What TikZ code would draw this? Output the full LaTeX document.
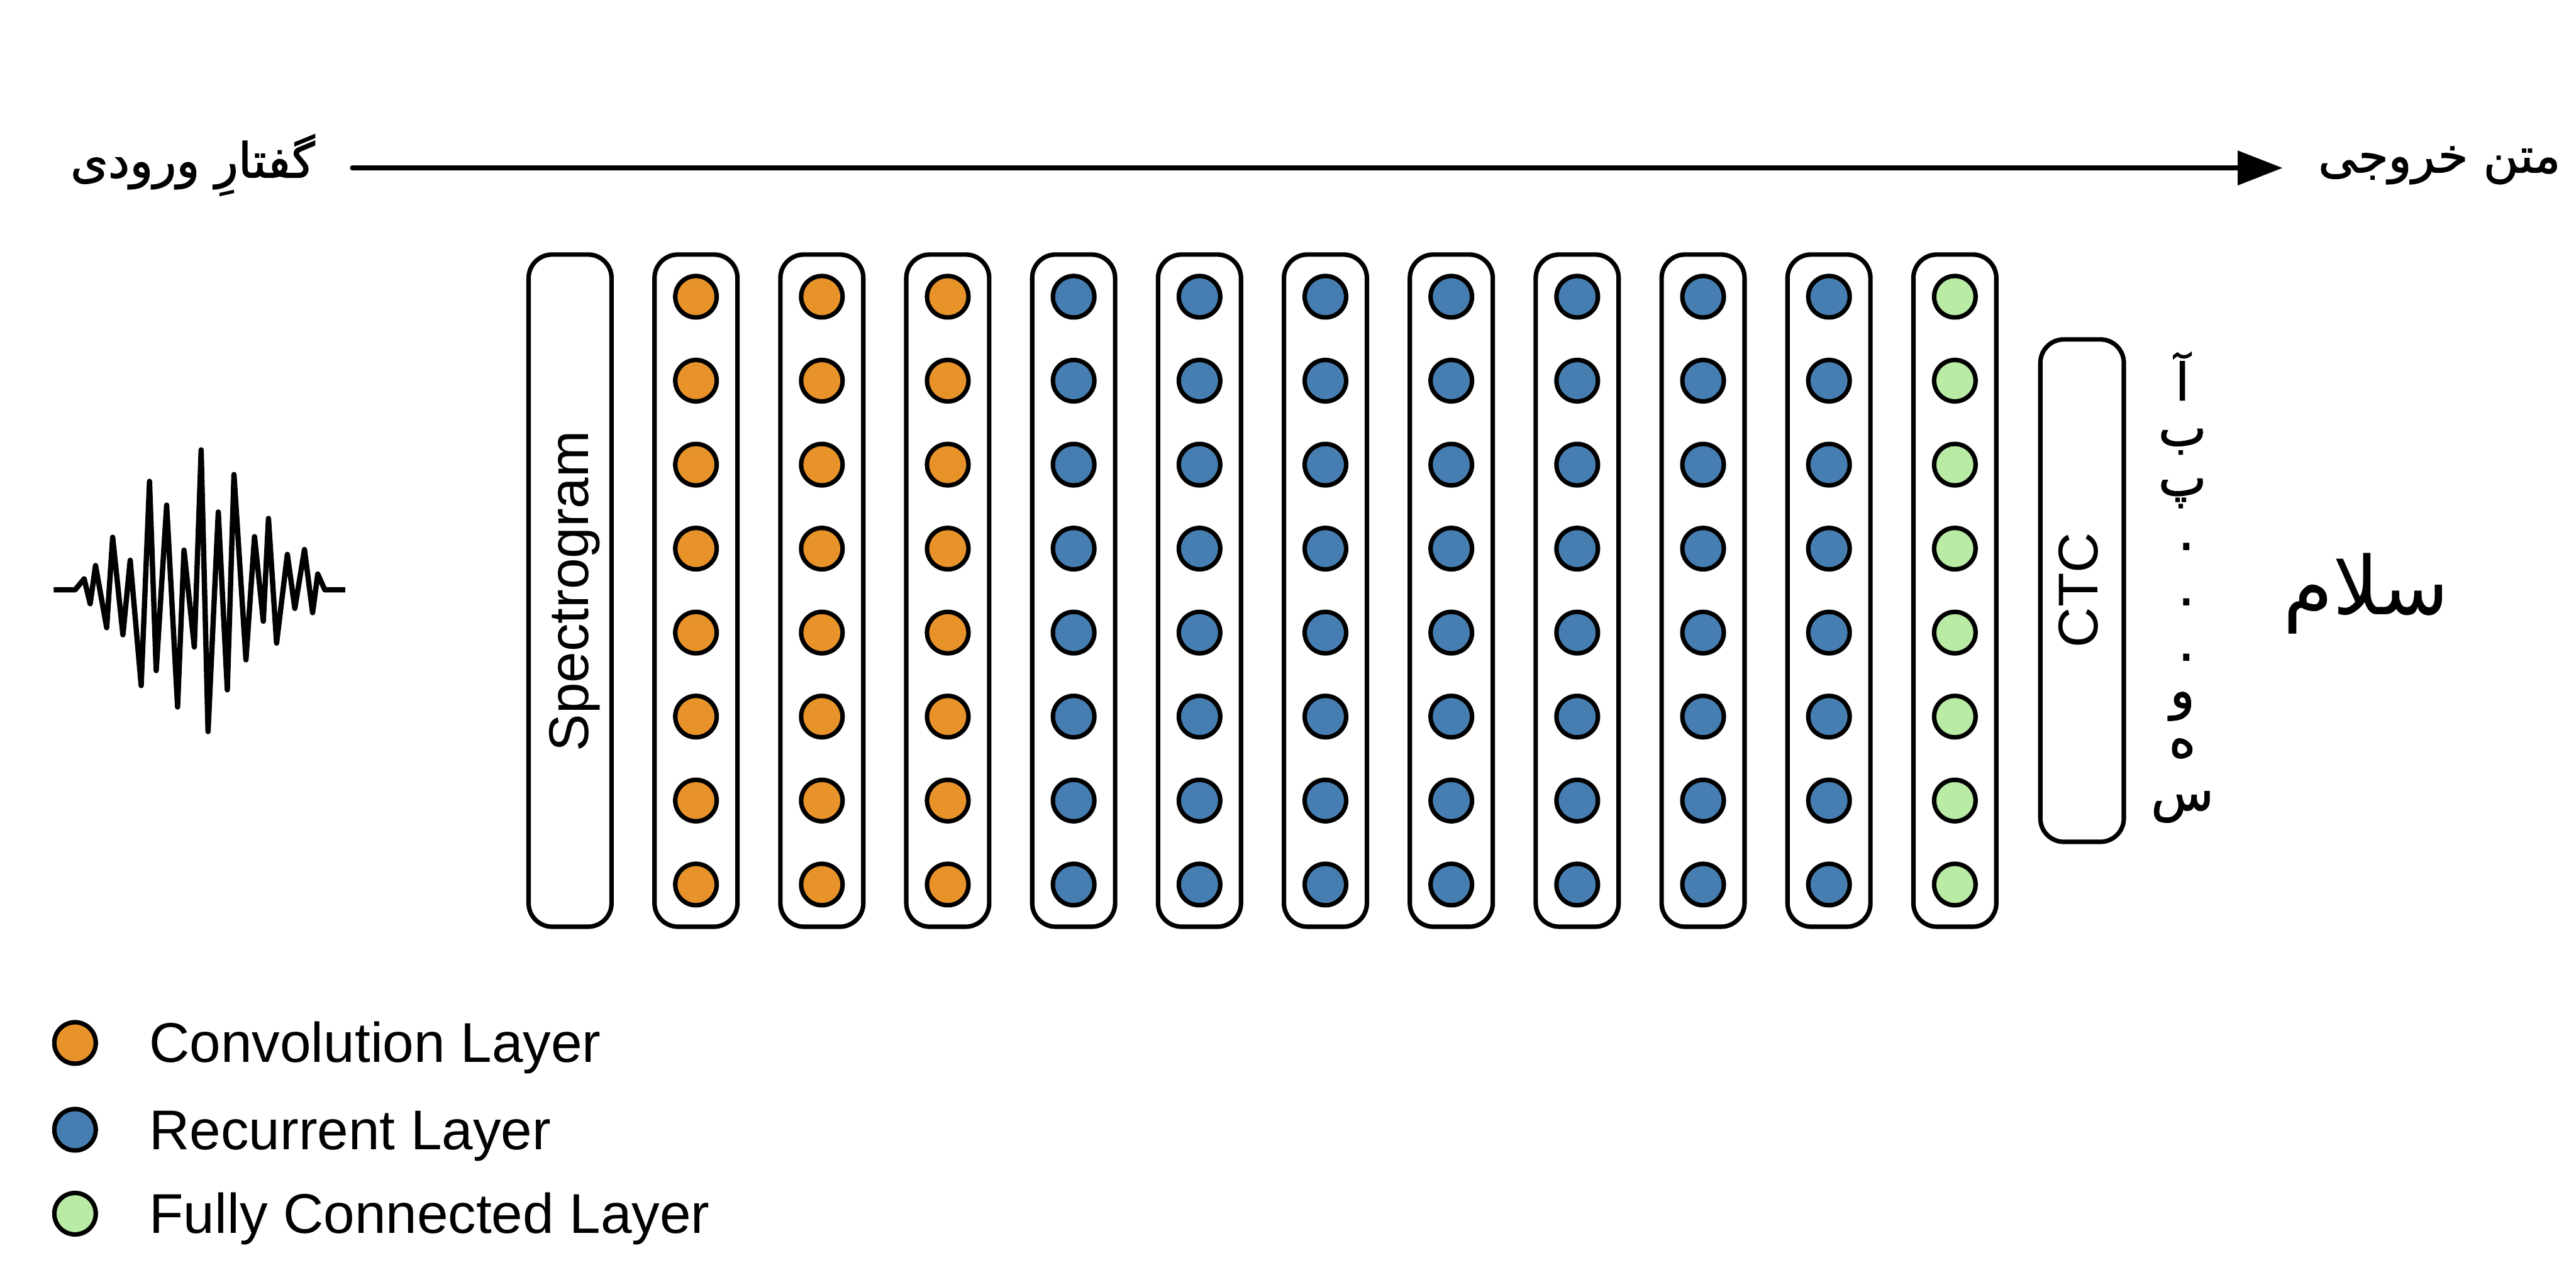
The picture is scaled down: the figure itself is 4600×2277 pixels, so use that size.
\documentclass[tikz,border=0pt]{standalone}
\usepackage{fontspec}
\setmainfont{Liberation Sans}
\newfontfamily\arabicfont[Script=Arabic,FakeBold=1.6]{DejaVu Sans}
\newfontfamily\arabicreg[Script=Arabic]{DejaVu Sans}
\TeXXeTstate=1
\usetikzlibrary{arrows.meta}
\definecolor{convc}{HTML}{E8922A}
\definecolor{recc}{HTML}{477EB1}
\definecolor{fcc}{HTML}{B9EBA5}
\tikzset{
  colbox/.style={draw, line width=2.28pt, rounded corners=0.42cm, minimum width=1.48cm, minimum height=12cm, inner sep=0pt},
  ctcbox/.style={draw, line width=2.28pt, rounded corners=0.42cm, minimum width=1.49cm, minimum height=8.97cm, inner sep=0pt},
  unit/.style={circle, draw, line width=2.28pt, minimum size=0.74cm, inner sep=0pt},
  lbl/.style={font=\fontsize{28.45}{34}\selectfont, inner sep=0pt},
  ar/.style={font=\arabicfont\fontsize{24.5}{30}\selectfont, inner sep=0pt},
  arl/.style={font=\arabicfont\fontsize{26}{30}\selectfont, inner sep=0pt},
  arbig/.style={font=\arabicreg\fontsize{41}{48}\selectfont, inner sep=0pt},
  flow/.style={line width=2.4pt, line cap=round, -{Triangle[length=0.8cm,width=0.6cm]}},
  wave/.style={line width=2.7pt, line join=round}
}
\begin{document}
\begin{tikzpicture}[x=0.01cm,y=-0.01cm]
\useasboundingbox[fill=white] (0,0) rectangle (4600,2277);

% top arrow and labels
\coordinate (arrS) at (629,300);
\coordinate (arrE) at (4076,300);
\draw[flow] (arrS) -- (arrE);
\node[ar, anchor=base east] (inlbl) at (563,317) {\beginR گفتارِ ورودی\endR};
\node[ar, anchor=base west] (outlbl) at (4139,308) {\beginR متن خروجی\endR};

% waveform
\draw[wave] (95.9,1053.5) -- (134.2,1053.5) -- (150.3,1034.0) -- (161.0,1078.4) -- (170.6,1010.2)
  -- (190.5,1121.2) -- (201.2,959.7) -- (219.5,1133.9) -- (232.5,1000.7) -- (252.1,1224.6)
  -- (267.0,859.8) -- (278.9,1197.8) -- (297.6,902.3) -- (317.1,1262.8) -- (328.6,982.7)
  -- (347.0,1155.7) -- (359.2,803.6) -- (371.5,1306.8) -- (389.8,914.6) -- (405.9,1232.2)
  -- (417.8,847.6) -- (439.2,1178.6) -- (454.5,958.6) -- (470.2,1109.7) -- (479.4,926.0)
  -- (493.9,1148.8) -- (513.1,990.3) -- (526.5,1086.8) -- (543.7,981.5) -- (558.2,1094.4)
  -- (567.4,1025.5) -- (580.0,1053.5) -- (616.4,1053.5);

% spectrogram
\node[colbox] (spec) at (1018,1055) {};
\node[lbl, rotate=90] (spectxt) at (1026,1056) {Spectrogram};

% layer columns
\foreach \i in {1,...,11} {
  \pgfmathsetmacro\cx{1018+224.8*\i}
  \node[colbox] (col\i) at (\cx,1055) {};
}
\foreach \i in {1,2,3} {
  \pgfmathsetmacro\cx{1018+224.8*\i}
  \foreach \j in {0,...,7} \node[unit, fill=convc] (u\i-\j) at (\cx,530+150*\j) {};
}
\foreach \i in {4,...,10} {
  \pgfmathsetmacro\cx{1018+224.8*\i}
  \foreach \j in {0,...,7} \node[unit, fill=recc] (u\i-\j) at (\cx,530+150*\j) {};
}
\foreach \i in {11} {
  \pgfmathsetmacro\cx{1018+224.8*\i}
  \foreach \j in {0,...,7} \node[unit, fill=fcc] (u\i-\j) at (\cx,530+150*\j) {};
}

% CTC
\node[ctcbox] (ctc) at (3718,1055) {};
\node[lbl, rotate=90] (ctctxt) at (3711,1054) {CTC};

% alphabet column
\node[arl, anchor=base] (a1) at (3897,715) {آ};
\node[arl, anchor=base] (a2) at (3897,796) {ب};
\node[arl, anchor=base] (a3) at (3897,885) {پ};
\node[arl] (d1) at (3904,976) {.};
\node[arl] (d2) at (3904,1075) {.};
\node[arl] (d3) at (3904,1174) {.};
\node[arl, anchor=base] (a4) at (3897,1265) {و};
\node[arl, anchor=base] (a5) at (3897,1352) {ه};
\node[arl, anchor=base] (a6) at (3897,1447) {س};

% output word
\node[arbig, anchor=base] (word) at (4225,1098) {\beginR سلام\endR};

% legend
\node[unit, fill=convc] (lg1) at (134,1863) {};
\node[lbl, anchor=base west] (lt1) at (266,1897) {Convolution Layer};
\node[unit, fill=recc] (lg2) at (134,2018) {};
\node[lbl, anchor=base west] (lt2) at (266,2053) {Recurrent Layer};
\node[unit, fill=fcc] (lg3) at (134,2168) {};
\node[lbl, anchor=base west] (lt3) at (266,2203) {Fully Connected Layer};
\end{tikzpicture}
\end{document}
